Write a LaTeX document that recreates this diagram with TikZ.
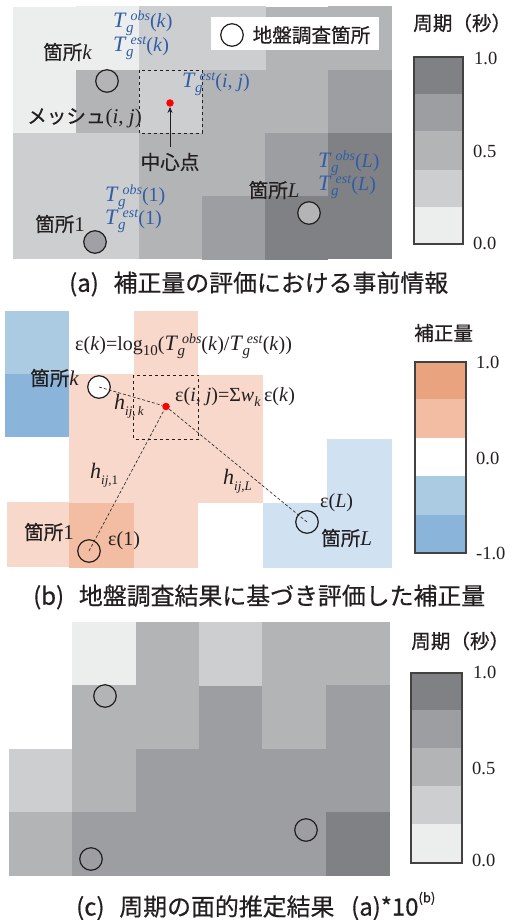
\documentclass[tikz,border=0pt]{standalone}
\usepackage{fontspec}
\setmainfont{Liberation Serif}
\newfontfamily\jp[RawFeature={embolden=0.5}]{Noto Sans CJK JP}
\usetikzlibrary{arrows.meta}
\definecolor{ga}{HTML}{ECEDED}
\definecolor{gb}{HTML}{CDCED0}
\definecolor{gc}{HTML}{B3B4B6}
\definecolor{gd}{HTML}{9D9EA1}
\definecolor{ge}{HTML}{808184}
\definecolor{pa}{HTML}{F7D8CA}
\definecolor{pb}{HTML}{F3BDA3}
\definecolor{pc}{HTML}{E9A47F}
\definecolor{ba}{HTML}{D0E1F1}
\definecolor{bb}{HTML}{ABCBE2}
\definecolor{bc}{HTML}{8AB4D9}
\definecolor{ink}{HTML}{231F20}
\definecolor{blu}{HTML}{2F5DA8}
\newcommand\sz[1]{\fontsize{#1}{#1}\selectfont}
\newcommand\Tsym[1]{{\sz{22}\textit{T}}\kern-.5pt\rlap{\raisebox{-.25em}{\sz{15}\textit{g}}}\hspace{.22em}\raisebox{.37em}{\sz{14}\textit{#1}}}
\newcommand\Hsym[1]{{\sz{22}\textit{h}}\raisebox{-.28em}{\sz{13}\textit{#1}}}
\newcommand\rmx[1]{{\rmfamily\sz{21}#1}}
\tikzset{
 x=1pt,y=-1pt,
 lab/.style={inner sep=0pt,text=ink,font=\jp\sz{19.6}},
 ser/.style={inner sep=0pt,text=ink,font=\sz{20}},
 tg/.style={inner sep=0pt,text=blu,font=\sz{20},anchor=west},
 captxt/.style={inner sep=0pt,text=ink,font=\jp\sz{23.9}},
 ticktxt/.style={inner sep=0pt,text=ink,font=\sz{18.5}},
 site/.style={circle,draw=ink,line width=1.2pt,minimum size=22.5pt,inner sep=0pt},
 ctr/.style={circle,fill=red,minimum size=7.5pt,inner sep=0pt},
 meshbox/.style={draw=ink,dashed,line width=.7pt},
 dist/.style={draw=ink,densely dashed,line width=.6pt},
 legframe/.style={draw=ink!85,line width=1.1pt},
}
\begin{document}
\begin{tikzpicture}
\useasboundingbox (0,0) rectangle (511,920);
\fill[white] (0,0) rectangle (511,920);
% ---- panel a cells
\foreach \xa/\ya/\xb/\yb/\cc in {
13/7/76/70/ga,76/6/139/70/ga,139/6/202/70/gb,202/6/266/70/gb,266/7/328/70/gc,328/6/392/70/gc,
13/70/76/133/ga,76/70/139/133/gc,139/70/202/133/gb,202/70/266/133/gc,266/70/328/133/gc,328/70/392/133/gd,
13/133/76/196/gb,76/133/139/196/gb,139/133/202/196/gc,202/133/265/196/gc,265/133/328/196/gd,328/133/392/196/ge,
13/196/76/259/gb,76/196/139/259/gb,139/196/202/259/gc,202/196/265/260/gd,265/196/328/260/ge,328/196/392/259/ge}
 {\fill[\cc] (\xa,\ya) rectangle (\xb,\yb);}
% legend box
\fill[white] (211,17) rectangle (379,50);
\node[site,fill=white] (s0) at (232,35) {};
\node[lab,anchor=west] (t0) at (252.5,35) {地盤調査箇所};
% mesh
\draw[meshbox] (139,70.5) rectangle (202,133.5);
\node[ctr] (ca) at (170,103) {};
\coordinate (cat) at (170,147);
\draw[-{Stealth[length=6pt,width=5pt]},draw=ink,line width=.7pt] (cat) -- (ca);
\node[site,fill=gc] (ska) at (107,81) {};
\node[site,fill=gd!85!gc] (s1a) at (95,242) {};
\node[site,fill=gc] (sla) at (309,213) {};
\node[lab,anchor=west] (la) at (43,52) {箇所\rmx{\textit{k}}};
\node[lab,anchor=west] (lb) at (27,118) {メッシュ\rmx{(\textit{i}, \textit{j})}};
\node[lab] (lc) at (170,162) {中心点};
\node[lab,anchor=west] (ld) at (248.5,190) {箇所\rmx{\textit{L}}};
\node[lab,anchor=west] (le) at (35,224) {箇所\rmx{1}};
\node[tg] (a1) at (113,23) {\Tsym{obs}(\textit{k})};
\node[tg] (a2) at (113,48) {\Tsym{est}(\textit{k})};
\node[tg] (a3) at (182,84) {\Tsym{est}(\textit{i}, \textit{j})};
\node[tg] (a4) at (318,163) {\Tsym{obs}(\textit{L})};
\node[tg] (a5) at (318,187) {\Tsym{est}(\textit{L})};
\node[tg] (a6) at (105,197) {\Tsym{obs}(1)};
\node[tg] (a7) at (105,221) {\Tsym{est}(1)};
% legend a
\foreach \ya/\yb/\cc in {57/94/ge,94/131/gd,131/170/gc,170/207/gb,207/244/ga}
 {\fill[\cc] (414,\ya) rectangle (463,\yb);}
\draw[legframe] (414,57) rectangle (463,244);
\node[lab,anchor=west] (ta) at (413,23) {周期（秒）};
\node[ticktxt,anchor=west] (ta1) at (474,58) {1.0};
\node[ticktxt,anchor=west] (ta2) at (473,151) {0.5};
\node[ticktxt,anchor=west] (ta3) at (473,243) {0.0};
\node[captxt,anchor=west] (capa) at (69,284) {(a)\hspace{.62em}補正量の評価における事前情報};
% ---- panel b cells
\foreach \xa/\ya/\xb/\yb/\cc in {
5/311/69/374/bb,134/311/198/375/pa,
5/374/69/437/bc,69/374/134/437/pa,134/375/198/437/pa,198/375/263/437/pa,
69/437/134/503/pa,134/437/198/503/pa,198/437/263/503/pa,327/439/392/503/ba,
7/502/69/567/pa,69/503/134/568/pb,134/503/198/568/pa,263/503/327/568/ba,327/503/392/568/ba}
 {\fill[\cc] (\xa,\ya) rectangle (\xb,\yb);}
\draw[meshbox] (133.5,375) rectangle (198.5,439);
\node[ctr] (cb) at (166,406.5) {};
\node[site,fill=white] (skb) at (99,387) {};
\node[site] (s1b) at (89,551) {};
\node[site] (slb) at (307,522) {};
\draw[dist] (skb.center) -- (cb);
\draw[dist] (s1b.center) -- (cb);
\draw[dist] (slb.center) -- (cb);
\node[ser,anchor=west] (b1) at (75,346) {ε(\textit{k})=log\raisebox{-.25em}{\sz{15}10}(\Tsym{obs}(\textit{k})/\Tsym{est}(\textit{k}))};
\node[ser,anchor=west] (b2) at (175,397) {ε(\textit{i}, \textit{j})=Σ\textit{w}\raisebox{-.25em}{\sz{14}\textit{k}}\,ε(\textit{k})};
\node[ser,anchor=west] (b3) at (114,406) {\Hsym{ij}\raisebox{-.28em}{\sz{13},\,\textit{k}}};
\node[ser,anchor=west] (b4) at (90,475) {\Hsym{ij,}\raisebox{-.28em}{\sz{13}1}};
\node[ser,anchor=west] (b5) at (223,481) {\Hsym{ij,L}};
\node[ser,anchor=west] (b6) at (320,503) {ε(\textit{L})};
\node[ser,anchor=west] (b7) at (108,541) {ε(1)};
\node[lab,anchor=west] (lf) at (30,378) {箇所\rmx{\textit{k}}};
\node[lab,anchor=west] (lg) at (24,532) {箇所\rmx{1}};
\node[lab,anchor=west] (lh) at (321,538) {箇所\rmx{\textit{L}}};
% legend b
\foreach \ya/\yb/\cc in {362/399/pc,399/438/pb,438/476/white,476/515/bb,515/553/bc}
 {\fill[\cc] (415,\ya) rectangle (466,\yb);}
\draw[legframe] (415,362) rectangle (466,553);
\node[lab,anchor=west] (tb) at (414,333) {補正量};
\node[ticktxt,anchor=west] (tb1) at (476,362) {1.0};
\node[ticktxt,anchor=west] (tb2) at (476,458) {0.0};
\node[ticktxt,anchor=west] (tb3) at (476,553) {-1.0};
\node[captxt,anchor=west] (capb) at (33,597) {(b)\hspace{.62em}地盤調査結果に基づき評価した補正量};
% ---- panel c cells
\foreach \xa/\ya/\xb/\yb/\cc in {
72/622/136/685/ga,136/622/199/686/gc,199/622/262/686/gb,262/622/326/685/gc,326/622/390/685/gc,
72/685/136/749/gc,136/685/199/749/gc,199/686/262/749/gd,262/685/326/749/gc,326/685/390/749/gd,
9/749/72/812/gb,72/749/136/812/gc,136/749/199/812/gd,199/749/262/812/gd,262/749/326/812/gd,326/749/390/812/gd,
9/812/72/876/gc,72/812/136/876/gd,136/812/199/876/gd,199/812/262/876/gd,262/812/326/876/gd,326/812/390/876/ge}
 {\fill[\cc] (\xa,\ya) rectangle (\xb,\yb);}
\node[site] (skc) at (105,696) {};
\node[site] (s1c) at (91,859) {};
\node[site] (slc) at (306,830) {};
\foreach \ya/\yb/\cc in {673/710/ge,710/748/gd,748/786/gc,786/824/gb,824/863/ga}
 {\fill[\cc] (411,\ya) rectangle (462,\yb);}
\draw[legframe] (411,673) rectangle (462,863);
\node[lab,anchor=west] (tc) at (411,641) {周期（秒）};
\node[ticktxt,anchor=west] (tc1) at (473,672) {1.0};
\node[ticktxt,anchor=west] (tc2) at (472,768) {0.5};
\node[ticktxt,anchor=west] (tc3) at (472,860) {0.0};
\node[captxt,anchor=west] (capc) at (76,906) {(c)\hspace{.62em}周期の面的推定結果\hspace{.7em}(a)*10\raisebox{.55em}{\sz{13}(b)}};
\end{tikzpicture}
\end{document}
